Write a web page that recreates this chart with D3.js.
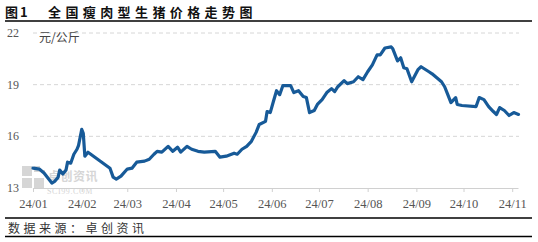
<!DOCTYPE html>
<html>
<head>
<meta charset="utf-8">
<script src="https://cdn.jsdelivr.net/npm/d3@7/dist/d3.min.js"></script>
<style>
html,body{margin:0;padding:0;background:#fff;}
svg{display:block;}
</style>
</head>
<body>
<svg id="chart" width="538" height="242"></svg>
<script>
const titleLabel = "图1";
const titleText = "全国瘦肉型生猪价格走势图";
const unitText = "元/公斤";
const sourceText = "数据来源：卓创资讯";
const yTicks = [13, 16, 19, 22];
const xTickLabels = ["24/01","24/02","24/03","24/04","24/05","24/06","24/07","24/08","24/09","24/10","24/11"];
const dates = [
"2024-01-01","2024-01-05","2024-01-08","2024-01-13","2024-01-15","2024-01-17","2024-01-18","2024-01-20","2024-01-22","2024-01-23",
"2024-01-25","2024-01-27","2024-01-29","2024-01-30","2024-02-01","2024-02-02","2024-02-03","2024-02-05","2024-02-19","2024-02-21",
"2024-02-23","2024-02-26","2024-03-01","2024-03-04","2024-03-07","2024-03-12","2024-03-15","2024-03-18","2024-03-20","2024-03-23",
"2024-03-27","2024-03-30","2024-04-02","2024-04-04","2024-04-08","2024-04-11","2024-04-15","2024-04-19","2024-04-26","2024-04-29",
"2024-05-03","2024-05-08","2024-05-10","2024-05-13","2024-05-16","2024-05-19","2024-05-22","2024-05-24","2024-05-28","2024-05-29",
"2024-05-31","2024-06-02","2024-06-04","2024-06-06","2024-06-08","2024-06-13","2024-06-15","2024-06-18","2024-06-21","2024-06-23",
"2024-06-25","2024-06-28","2024-06-30","2024-07-03","2024-07-06","2024-07-09","2024-07-11","2024-07-13","2024-07-17","2024-07-19",
"2024-07-23","2024-07-26","2024-07-29","2024-08-01","2024-08-04","2024-08-07","2024-08-09","2024-08-12","2024-08-16","2024-08-17",
"2024-08-20","2024-08-22","2024-08-24","2024-08-26","2024-08-29","2024-09-02","2024-09-04","2024-09-09","2024-09-11","2024-09-14",
"2024-09-17","2024-09-19","2024-09-21","2024-09-23","2024-09-26","2024-09-27","2024-09-30","2024-10-09","2024-10-11","2024-10-14",
"2024-10-17","2024-10-20","2024-10-22","2024-10-24","2024-10-27","2024-10-30","2024-11-02","2024-11-05"
];
const prices = [
14.15,14.10,13.87,13.29,13.40,13.63,14.04,13.81,14.04,14.50,
14.44,14.96,15.25,15.48,16.40,16.17,14.85,15.08,14.15,13.63,
13.52,13.69,14.10,14.15,14.50,14.56,14.67,14.96,15.13,15.08,
15.42,15.13,15.37,15.08,15.42,15.25,15.13,15.08,15.13,14.79,
14.85,15.02,14.96,15.25,15.42,15.71,16.23,16.69,16.87,17.44,
17.38,18.02,18.65,18.42,18.94,18.94,18.54,18.65,18.31,18.25,
17.38,17.50,17.85,18.13,18.54,18.77,18.60,18.88,19.23,19.06,
19.17,19.46,19.29,19.75,20.15,20.73,20.73,21.13,21.19,21.08,
20.38,20.56,19.98,19.92,19.17,19.87,20.04,19.75,19.63,19.40,
19.17,18.88,18.42,17.96,18.25,17.85,17.79,17.73,18.25,18.13,
17.73,17.44,17.27,17.67,17.50,17.21,17.38,17.27
];

const parse = d3.timeParse("%Y-%m-%d");
const data = dates.map((d,i)=>({date:parse(d), v:prices[i]}));
const svg = d3.select("#chart");

const x = d3.scaleTime().domain([parse("2024-01-01"), parse("2024-11-05")]).range([33, 518.5]);
const y = d3.scaleLinear().domain([13, 22]).range([188, 33]);

// title
svg.append("text").attr("x",5).attr("y",17).text(titleLabel)
  .style("font-family","'Noto Sans CJK SC'").style("font-weight","700").style("font-size","13px")
  .style("letter-spacing","2px").attr("fill","#111");
svg.append("text").attr("x",48).attr("y",17).text(titleText)
  .style("font-family","'Noto Sans CJK SC'").style("font-weight","700").style("font-size","13px")
  .style("letter-spacing","4.4px").attr("fill","#111");
svg.append("line").attr("x1",5).attr("x2",532).attr("y1",21).attr("y2",21).attr("stroke","#000").attr("stroke-width",1.5);

// footer
svg.append("line").attr("x1",5).attr("x2",532).attr("y1",218).attr("y2",218).attr("stroke","#000").attr("stroke-width",1.3);
svg.append("line").attr("x1",5).attr("x2",532).attr("y1",236.5).attr("y2",236.5).attr("stroke","#000").attr("stroke-width",1.3);
svg.append("text").attr("x",8).attr("y",233).text(sourceText)
  .style("font-family","'Noto Sans CJK SC'").style("font-size","12px").style("letter-spacing","3.5px").attr("fill","#333");

// watermark
const wm = svg.append("g").attr("fill","#d6d6d6");
[[22,166,10,10],[34,166,6,6],[22,178,10,10],[34,178,10,10],[42,170,3,3]].forEach(r=>{
  wm.append("rect").attr("x",r[0]).attr("y",r[1]).attr("width",r[2]).attr("height",r[3]);
});
wm.append("text").attr("x",48).attr("y",181).text("卓创资讯")
  .style("font-family","'Noto Sans CJK SC'").style("font-weight","700").style("font-size","12px").style("letter-spacing","0.5px");
wm.append("text").attr("x",47).attr("y",194).text("SCI99.COM")
  .style("font-family","'Liberation Serif'").style("font-size","8px").style("letter-spacing","0.6px");

// gridlines
svg.append("g").selectAll("line").data(yTicks.filter(t=>t>13)).join("line")
  .attr("x1",33).attr("x2",519).attr("y1",d=>y(d)).attr("y2",d=>y(d))
  .attr("stroke","#d6d6d6").attr("stroke-width",1).attr("stroke-dasharray","4,3");

// y labels
svg.append("g").selectAll("text").data(yTicks).join("text")
  .attr("x",7).attr("y",d=>y(d)+4).text(d=>d)
  .style("font-family","'Liberation Serif'").style("font-size","12px").attr("fill","#555");

// x axis
const monthTicks = xTickLabels.map(s=>parse("20"+s.slice(0,2)+"-"+s.slice(3)+"-01"));
const xAxis = d3.axisBottom(x).tickValues(monthTicks).tickSize(4).tickFormat((d,i)=>xTickLabels[i]);
const gx = svg.append("g").attr("transform","translate(0,188)").call(xAxis);
gx.select(".domain").attr("stroke","#d0d0d0").attr("d","M33,0.5H518.5");
gx.selectAll(".tick line").attr("stroke","#d0d0d0");
gx.selectAll(".tick text").attr("fill","#555").attr("dy","1em")
  .style("font-family","'Liberation Serif'").style("font-size","12.5px");

// line
const line = d3.line().x(d=>x(d.date)).y(d=>y(d.v));
svg.append("path").datum(data).attr("d",line).attr("fill","none")
  .attr("stroke","#175a98").attr("stroke-width",3.2).attr("stroke-linejoin","round").attr("stroke-linecap","round");

// unit
svg.append("text").attr("x",39).attr("y",42).text(unitText)
  .style("font-family","'Noto Sans CJK SC'").style("font-size","12px").attr("fill","#444");
</script>
</body>
</html>
